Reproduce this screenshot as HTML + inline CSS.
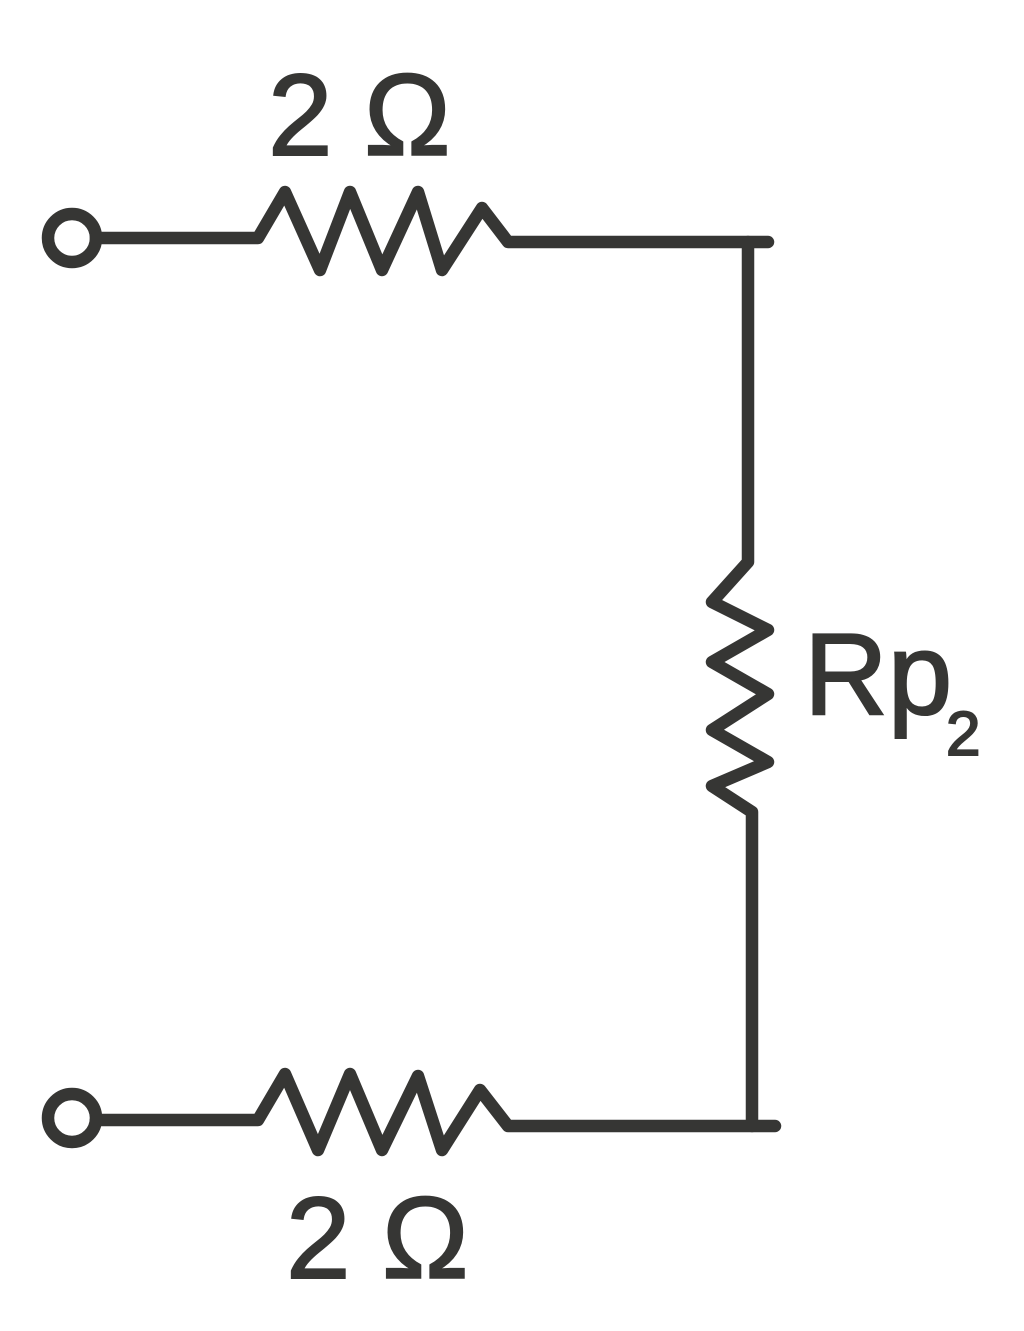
<!DOCTYPE html>
<html><head><meta charset="utf-8"><style>
html,body{margin:0;padding:0;background:#fff;}
svg{display:block;}
text{font-family:"Liberation Sans",sans-serif;fill:#363634;stroke:#363634;stroke-width:2;}
</style></head><body>
<svg width="1024" height="1331" viewBox="0 0 1024 1331" xmlns="http://www.w3.org/2000/svg">
<g fill="none" stroke="#363634" stroke-width="12.5" stroke-linejoin="round" stroke-linecap="round">
<circle cx="72" cy="238" r="24"/>
<polyline points="96,238 258,238 285,192 320,270 350,192 382,270 418,192 442,270 482,208 508,242 768,242"/>
<polyline points="748,242 748,562 712,602 768,630 712,662 768,694 712,730 768,762 712,786 752,812 752,1126"/>
<circle cx="72" cy="1118" r="24"/>
<polyline points="96,1120 258,1120 285,1074 318,1150 350,1074 382,1150 418,1076 442,1150 480,1090 508,1126 775,1126"/>
</g>
<text x="268" y="155" font-size="116">2</text>
<text x="364" y="155" font-size="116">Ω</text>
<text x="286" y="1278" font-size="116">2</text>
<text x="382" y="1278" font-size="116">Ω</text>
<text x="804" y="714" font-size="116">Rp</text>
<text x="946" y="755" font-size="62">2</text>
</svg>
</body></html>
